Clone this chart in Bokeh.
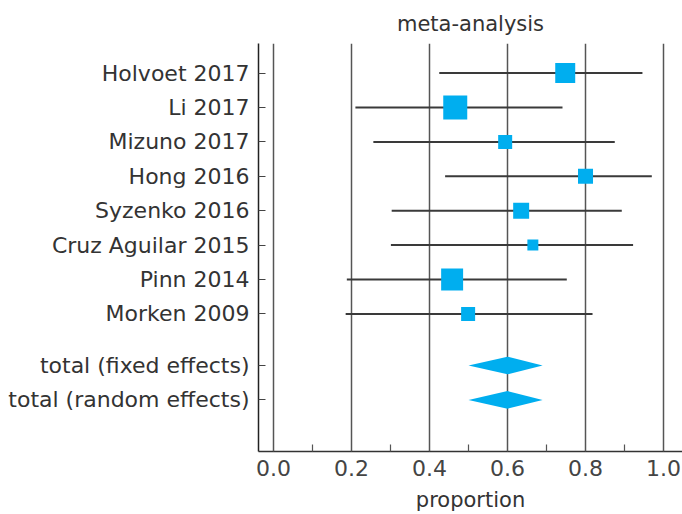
from bokeh.plotting import figure
from bokeh.models import Range1d, FixedTicker, ColumnDataSource
from bokeh.embed import file_html
from bokeh.resources import INLINE
import math

# Individual studies: pooled proportion with 95% CI and relative weight (%)
studies = ["Holvoet 2017", "Li 2017", "Mizuno 2017", "Hong 2016",
           "Syzenko 2016", "Cruz Aguilar 2015", "Pinn 2014", "Morken 2009"]
proportion = [0.748, 0.466, 0.594, 0.800, 0.635, 0.665, 0.458, 0.499]
ci_lower = [0.425, 0.210, 0.256, 0.440, 0.303, 0.301, 0.188, 0.185]
ci_upper = [0.946, 0.741, 0.875, 0.970, 0.893, 0.922, 0.752, 0.818]
weight_pct = [16.3, 23.5, 8.0, 9.2, 10.4, 4.9, 19.7, 8.0]

# Summary estimates
pooled_labels = ["total (fixed effects)", "total (random effects)"]
pooled_est = [0.600, 0.600]
pooled_lower = [0.500, 0.500]
pooled_upper = [0.690, 0.690]

x_ticks = [0.0, 0.2, 0.4, 0.6, 0.8, 1.0]
x_tick_labels = ["0.0", "0.2", "0.4", "0.6", "0.8", "1.0"]
x_minor = [0.1, 0.3, 0.5, 0.7, 0.9]

FONT = "DejaVu Sans"
TEXT = "#333333"
BLUE = "#00AEEF"

# rows: studies one per line, then a gap before the summary rows
study_rows = list(range(len(studies)))
pooled_rows = [len(studies) + 0.5 + i for i in range(len(pooled_labels))]

p = figure(width=682, height=514, output_backend="svg", toolbar_location=None,
           x_range=Range1d(-0.0385, 1.0487),
           y_range=Range1d(pooled_rows[-1] + 1.5, -0.86),
           min_border_left=258, min_border_right=0,
           min_border_top=43, min_border_bottom=63)
p.outline_line_color = None
p.background_fill_color = "white"
p.border_fill_color = "white"

p.title.text = "meta-analysis"
p.title.align = "center"
p.title.text_font = FONT
p.title.text_font_size = "21px"
p.title.text_font_style = "normal"
p.title.text_color = TEXT
p.title.standoff = 16

# x axis
xa = p.xaxis[0]
xa.ticker = FixedTicker(ticks=x_ticks, minor_ticks=x_minor)
xa.major_label_overrides = {t: l for t, l in zip(x_ticks, x_tick_labels)}
xa.axis_label = "proportion"
xa.axis_label_text_font = FONT
xa.axis_label_text_font_size = "21px"
xa.axis_label_text_font_style = "normal"
xa.axis_label_text_color = TEXT
xa.axis_label_text_line_height = 0.8
xa.axis_label_standoff = 9
xa.major_label_text_font = FONT
xa.major_label_text_font_size = "22px"
xa.major_label_text_color = "#444444"
xa.major_label_standoff = 8
xa.major_label_text_line_height = 0.75
xa.axis_line_color = "#333333"
xa.axis_line_width = 1.5
xa.major_tick_in = 7
xa.major_tick_out = 0
xa.minor_tick_in = 7
xa.minor_tick_out = 0
xa.major_tick_line_color = "#555555"
xa.minor_tick_line_color = "#555555"
xa.minor_tick_line_width = 1.2

# y axis with study names
ya = p.yaxis[0]
all_rows = study_rows + pooled_rows
all_labels = studies + pooled_labels
ya.ticker = FixedTicker(ticks=all_rows)
ya.major_label_overrides = {float(r): l for r, l in zip(all_rows, all_labels)}
ya.major_label_text_font = FONT
ya.major_label_text_font_size = "22px"
ya.major_label_text_color = TEXT
ya.major_label_standoff = 9
ya.axis_line_color = "#222222"
ya.axis_line_width = 1.5
ya.major_tick_in = 7
ya.major_tick_out = 0
ya.major_tick_line_color = "#444444"
ya.minor_tick_line_color = None

p.xgrid.ticker = FixedTicker(ticks=x_ticks)
p.xgrid.grid_line_color = "#555555"
p.xgrid.grid_line_width = 1.5
p.ygrid.grid_line_color = None

# confidence intervals
p.segment(x0=ci_lower, x1=ci_upper, y0=study_rows, y1=study_rows,
          line_color="#3a3a3a", line_width=2)

# point estimates, square side scaled to sqrt(weight)
sides = [4.95 * math.sqrt(w) for w in weight_pct]
src = ColumnDataSource(dict(x=proportion, y=study_rows, s=sides))
p.rect(x="x", y="y", width="s", height="s", width_units="screen",
       height_units="screen", source=src, fill_color=BLUE, line_color=None)

# summary diamonds
half_h = 0.257
xs = [[lo, est, hi, est] for lo, est, hi in zip(pooled_lower, pooled_est, pooled_upper)]
ys = [[r, r - half_h, r, r + half_h] for r in pooled_rows]
p.patches(xs=xs, ys=ys, fill_color=BLUE, line_color=None)

open("out.html", "w").write(file_html(p, INLINE))
